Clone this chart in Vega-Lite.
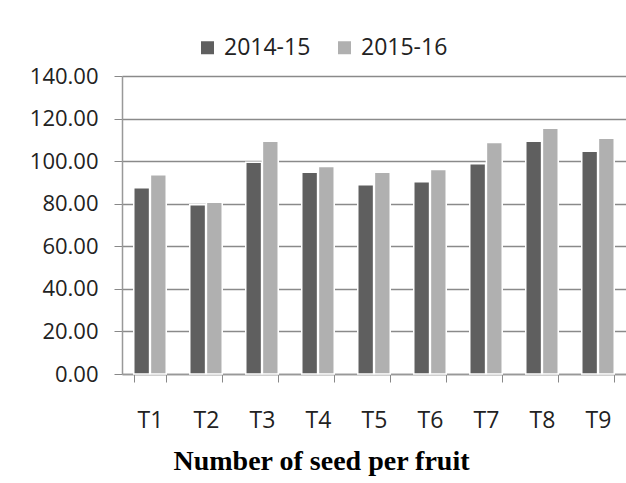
{
  "$schema": "https://vega.github.io/schema/vega-lite/v6.json",
  "autosize": "none",
  "width": 504,
  "height": 298,
  "padding": {"left": 122, "top": 76, "right": 0, "bottom": 109},
  "background": "white",
  "data": {
    "values": [
      {"treatment": "T1", "season": "2014-15", "value": 87.5},
      {"treatment": "T1", "season": "2015-16", "value": 93.6},
      {"treatment": "T2", "season": "2014-15", "value": 79.5},
      {"treatment": "T2", "season": "2015-16", "value": 80.7},
      {"treatment": "T3", "season": "2014-15", "value": 99.5},
      {"treatment": "T3", "season": "2015-16", "value": 109.4},
      {"treatment": "T4", "season": "2014-15", "value": 94.8},
      {"treatment": "T4", "season": "2015-16", "value": 97.5},
      {"treatment": "T5", "season": "2014-15", "value": 88.9},
      {"treatment": "T5", "season": "2015-16", "value": 94.8},
      {"treatment": "T6", "season": "2014-15", "value": 90.3},
      {"treatment": "T6", "season": "2015-16", "value": 96.1},
      {"treatment": "T7", "season": "2014-15", "value": 98.8},
      {"treatment": "T7", "season": "2015-16", "value": 108.8},
      {"treatment": "T8", "season": "2014-15", "value": 109.4},
      {"treatment": "T8", "season": "2015-16", "value": 115.5},
      {"treatment": "T9", "season": "2014-15", "value": 104.7},
      {"treatment": "T9", "season": "2015-16", "value": 110.8}
    ]
  },
  "mark": {"type": "bar", "stroke": "white", "strokeWidth": 1.5},
  "encoding": {
    "x": {
      "field": "treatment",
      "type": "nominal",
      "scale": {"paddingInner": 0.42, "paddingOuter": 0.21},
      "axis": {
        "title": "Number of seed per fruit",
        "titleFont": "Liberation Serif",
        "titleFontWeight": "bold",
        "titleFontSize": 28,
        "titleColor": "black",
        "titleAlign": "center",
        "titleBaseline": "alphabetic",
        "titleX": 199,
        "titleY": 95,
        "labelAngle": 0,
        "labelFont": "Open Sans",
        "labelFontSize": 23,
        "labelColor": "#222",
        "labelPadding": 27,
        "tickBand": "extent",
        "tickSize": 8,
        "tickColor": "#888",
        "domainColor": "#999",
        "domainWidth": 1.5
      }
    },
    "xOffset": {"field": "season", "type": "nominal", "scale": {"paddingInner": 0.05}},
    "y": {
      "field": "value",
      "type": "quantitative",
      "scale": {"domain": [0, 140]},
      "axis": {
        "title": null,
        "values": [0, 20, 40, 60, 80, 100, 120, 140],
        "format": ".2f",
        "labelFont": "Open Sans",
        "labelFontSize": 22,
        "labelColor": "#222",
        "labelPadding": 16,
        "tickSize": 8,
        "tickColor": "#888",
        "domainColor": "#999",
        "domainWidth": 1.5,
        "grid": true,
        "gridColor": "#8a8a8a",
        "gridWidth": 1.5
      }
    },
    "color": {
      "field": "season",
      "type": "nominal",
      "scale": {"range": ["#5f5f5f", "#b0b0b0"]},
      "legend": {
        "title": null,
        "orient": "none",
        "direction": "horizontal",
        "legendX": 74,
        "legendY": -40,
        "symbolType": "square",
        "symbolSize": 169,
        "symbolStrokeWidth": 0,
        "labelFont": "Open Sans",
        "labelFontSize": 23,
        "labelColor": "#222",
        "labelOffset": 5,
        "columnPadding": 22
      }
    }
  },
  "config": {"view": {"stroke": null}}
}
